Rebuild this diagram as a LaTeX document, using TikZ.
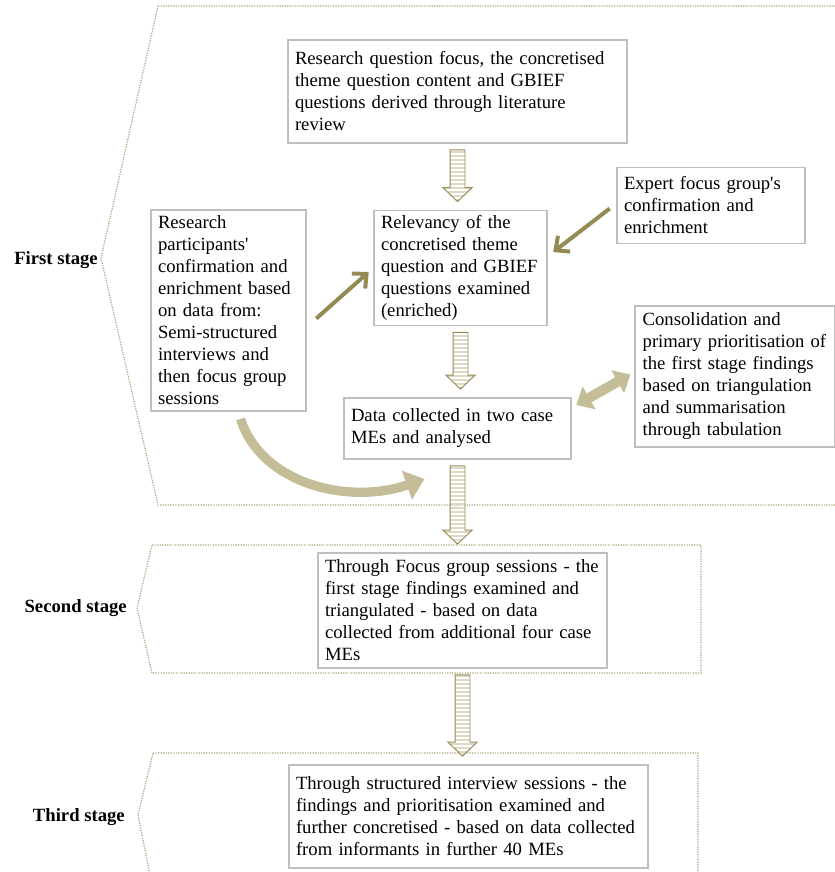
\documentclass[tikz,border=0pt]{standalone}
\usepackage{fontspec}
\setmainfont{Liberation Serif}
\usetikzlibrary{arrows.meta,calc,patterns.meta}
\definecolor{boxgray}{HTML}{BFBFBF}
\definecolor{arrowolive}{HTML}{948A54}
\definecolor{tanline}{HTML}{C4BD97}
\definecolor{tanfill}{HTML}{DDD9C3}
\definecolor{stageline}{HTML}{A9A27A}
\tikzset{
  txtbox/.style={draw=boxgray, line width=1.4pt, align=left, inner xsep=5.5pt, inner ysep=1pt,
    font=\fontsize{14}{16.5}\selectfont},
  stagelabel/.style={font=\fontsize{14}{16.5}\selectfont\bfseries, anchor=east, inner sep=0pt},
  stageline/.style={draw=stageline, densely dotted, line width=0.9pt},
  stripe/.style={draw=arrowolive, line width=0.7pt, pattern={Lines[angle=0,distance=3pt,line width=1.6pt]}, pattern color=tanfill},
  oliveline/.style={draw=arrowolive, line width=3pt, -{Straight Barb[length=8pt,width=15pt]}},
  dblarrow/.style={draw=tanline, line width=7.5pt, {Triangle[length=11pt,width=19pt]}-{Triangle[length=11pt,width=19pt]}},
  curvearrow/.style={draw=tanline, line width=7pt, -{Triangle[length=14pt,width=22pt]}}
}
\newcommand{\stripedown}[2]{%
  \draw[stripe] let \p1=($(#1)+(0,6)$), \p2=($(#2)+(0,-8)$) in
    (\x1-5.6pt,\y1) -- (\x1+5.6pt,\y1) -- (\x1+5.6pt,\y2+10.5pt) -- (\x1+11pt,\y2+10.5pt)
    -- (\x1,\y2) -- (\x1-11pt,\y2+10.5pt) -- (\x1-5.6pt,\y2+10.5pt) -- cycle;}

\begin{document}
\begin{tikzpicture}[x=0.75pt,y=-0.75pt]
\clip (0,0) rectangle (835,872);

\draw[stageline] (158,6) -- (850,6) -- (850,505) -- (158,505) -- (101,258) -- cycle;
\draw[stageline] (152,545) -- (701,545) -- (701,673) -- (152,673) -- (137,608) -- cycle;
\draw[stageline] (153,753) -- (698,753) -- (698,890) -- (153,890) -- (138,815) -- cycle;

\node[stagelabel] (lab1) at (98,260) {First stage};
\node[stagelabel] (lab2) at (127,608) {Second stage};
\node[stagelabel] (lab3) at (125,817) {Third stage};

\node[txtbox, text width=243.75pt, minimum height=77.25pt] (q1) at (457.5,91.5)
  {Research question focus, the concretised\\theme question content and GBIEF\\questions derived through literature\\review};
\node[txtbox, text width=119.25pt, minimum height=86.25pt] (rel) at (460.5,268)
  {Relevancy of the\\concretised theme\\question and GBIEF\\questions examined\\(enriched)};
\node[txtbox, text width=130.5pt, minimum height=57pt] (expert) at (711,205.5)
  {Expert focus group\textquotesingle s\\confirmation and\\enrichment};
\node[txtbox, text width=105.75pt, minimum height=150.75pt] (part) at (228.5,310.5)
  {Research\\participants\textquotesingle\\confirmation and\\enrichment based\\on data from:\\Semi-structured\\interviews and\\then focus group\\sessions};
\node[txtbox, text width=159.75pt, minimum height=45.75pt] (data) at (457.5,428.5)
  {Data collected in two case\\MEs and analysed};
\node[txtbox, text width=138.5pt, minimum height=105.75pt] (cons) at (735,376.5)
  {Consolidation and\\primary prioritisation of\\the first stage findings\\based on triangulation\\and summarisation\\through tabulation};
\node[txtbox, text width=206.25pt, minimum height=86.25pt] (second) at (462.5,610.5)
  {Through Focus group sessions - the\\first stage findings examined and\\triangulated - based on data\\collected from additional four case\\MEs};
\node[txtbox, text width=258.75pt, minimum height=77.25pt] (third) at (468.5,816.5)
  {Through structured interview sessions - the\\findings and prioritisation examined and\\further concretised - based on data collected\\from informants in further 40 MEs};

\stripedown{q1.south}{rel.north}
\stripedown{rel.south}{data.north}
\stripedown{data.south}{second.north}
\stripedown{second.south}{third.north}

\draw[oliveline] ($(part.east)+(9,8)$) -- ($(rel.west)+(-4,4)$);
\draw[oliveline] ($(expert.west)+(-6,3)$) -- ($(rel.east)+(5,-16)$);
\draw[dblarrow] ($(data.north east)+(4,8)$) -- ($(cons.west)+(-4,-2)$);
\draw[curvearrow] ($(part.south)+(12,7)$) .. controls (262,485) and (350,505) .. ($(data.south)+(-33,19)$);
\end{tikzpicture}
\end{document}
